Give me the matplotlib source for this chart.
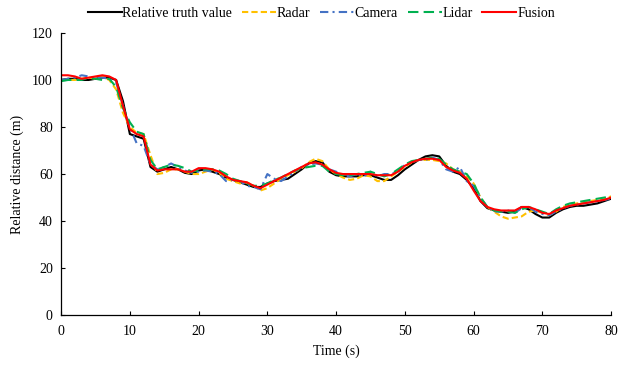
import matplotlib.pyplot as plt
import numpy as np

plt.rcParams['font.family'] = ['Liberation Serif', 'DejaVu Serif']
plt.rcParams['font.size'] = 10

# time axis (s)
time = np.arange(0, 81, 1)

truth = [100, 100.5, 100.5, 100, 100, 100.5, 101, 101, 100, 91,
         77, 76, 75, 63, 61, 62, 63, 62, 60.5, 60,
         61.5, 62, 61, 60, 58.5, 57.5, 56.5, 55.5, 54.5, 54.5,
         56, 57, 57.5, 58, 60, 62, 64.5, 65.5, 65, 61,
         59.5, 59, 59, 59, 59.5, 59.5, 58.5, 57.5, 57.5, 59.5,
         62, 64, 66, 67.5, 68, 67.5, 63.5, 61, 60, 57.5,
         54, 48.5, 45.5, 44.5, 44, 43.5, 44, 46, 45, 43,
         41.5, 41.5, 43.5, 45, 46, 46.5, 46.5, 47, 47.5, 48.5,
         49.5]

radar = [100, 100, 100, 100.5, 101, 100.5, 101.5, 100, 96, 86,
         80, 77.5, 77, 68, 60, 60.5, 62, 62, 61, 60,
         60, 61, 62, 60.5, 58, 57, 56, 56.5, 55, 53,
         54, 56, 58, 59.5, 61, 62.5, 65, 66.5, 65.5, 62,
         60, 58.5, 57.5, 58, 59.5, 59, 57, 57, 59, 61,
         63, 65, 66, 66, 66, 65.5, 64.5, 62, 61, 59,
         56, 50, 46, 44, 42, 41, 41.5, 42, 44, 44.5,
         43.5, 42.5, 44, 46, 47, 47.5, 48, 48.5, 49, 49.5,
         50.5]

camera = [100, 100.5, 101, 102, 101.5, 101, 101, 100.5, 99, 89,
          80, 73, 72, 64, 62, 63, 64.5, 63, 61.5, 60.5,
          61, 61.5, 61, 60, 57, 57.5, 57, 55, 54.5, 53.5,
          60, 58, 57, 59, 61, 63, 64, 64.5, 64, 62,
          61, 59.5, 59, 60, 59, 61, 59, 60, 60, 61,
          64, 65, 66, 66, 67, 66, 62, 61, 63, 57,
          55, 50, 46, 44, 44, 44.5, 43.5, 45.5, 46, 44,
          43, 42.5, 44, 45.5, 46.5, 47, 47.5, 48, 48.5, 49,
          49.5]

lidar = [99.5, 100, 100, 100, 101, 100.5, 100, 100.5, 97, 88,
         82, 78, 77, 66, 62, 63, 64, 63.5, 62.5, 61,
         61.5, 62, 62, 61.5, 60, 58, 57, 56, 55, 55,
         56, 57.5, 58.5, 60, 61.5, 62.5, 63, 63.5, 63.5, 61,
         60, 59.5, 59.5, 60, 60.5, 61, 60, 59, 60, 62,
         64, 65.5, 66, 66.5, 67, 66.5, 64, 62, 61, 60,
         56, 50, 46, 44.5, 44, 44, 43.5, 45, 46, 45,
         44, 43, 45, 46.5, 47.5, 48, 48.5, 49, 49.5, 50,
         50.5]

fusion = [102, 102, 101.5, 100.5, 101, 101.5, 102, 101.5, 100, 89,
          79, 77, 76, 64, 61.5, 62, 62, 62, 61, 61,
          62.5, 62.5, 62, 61, 59, 57.5, 57, 56.5, 55, 54,
          55.5, 57, 58.5, 60, 61.5, 63, 64.5, 65, 64, 62,
          60.5, 60, 60, 60, 60, 60, 59.5, 59.5, 59.5, 61,
          63.5, 65, 66, 66.5, 66.5, 66, 63, 61.5, 60.5, 58,
          53, 48.5, 46, 45, 44.5, 44.5, 44.5, 46, 46, 45,
          43.5, 43, 44.5, 45.5, 46.5, 47, 47.5, 48, 48.5, 49,
          50]

fig = plt.figure(figsize=(6.3, 3.66), dpi=100)
ax = fig.add_axes([0.097, 0.139, 0.873, 0.771])

ax.plot(time, truth, color='black', lw=1.5, label='Relative truth value')
ax.plot(time, radar, color='#FFC000', lw=1.5, dashes=(3, 1.5), label='Radar')
ax.plot(time, camera, color='#4472C4', lw=1.5, dashes=(4, 2, 1, 2), label='Camera')
ax.plot(time, lidar, color='#00B050', lw=1.5, dashes=(5, 2.5), label='Lidar')
ax.plot(time, fusion, color='#FF0000', lw=1.5, label='Fusion')

ax.set_xlim(0, 80)
ax.set_ylim(0, 120)
ax.set_xticks(np.arange(0, 81, 10))
ax.set_yticks(np.arange(0, 121, 20))
ax.tick_params(direction='in', length=3, width=0.8)
ax.tick_params(axis='x', pad=7)
ax.tick_params(axis='y', pad=6)
ax.spines['top'].set_visible(False)
ax.spines['right'].set_visible(False)
ax.spines['left'].set_linewidth(0.9)
ax.spines['bottom'].set_linewidth(0.9)

ax.set_xlabel('Time (s)', labelpad=5)
ax.set_ylabel('Relative distance (m)', labelpad=6)

fig.legend(loc='upper center', bbox_to_anchor=(0.51, 1.015), ncol=5, frameon=False,
           handlelength=2.45, handletextpad=0.05, columnspacing=0.7, fontsize=10)

fig.savefig('out.png', dpi=100)
